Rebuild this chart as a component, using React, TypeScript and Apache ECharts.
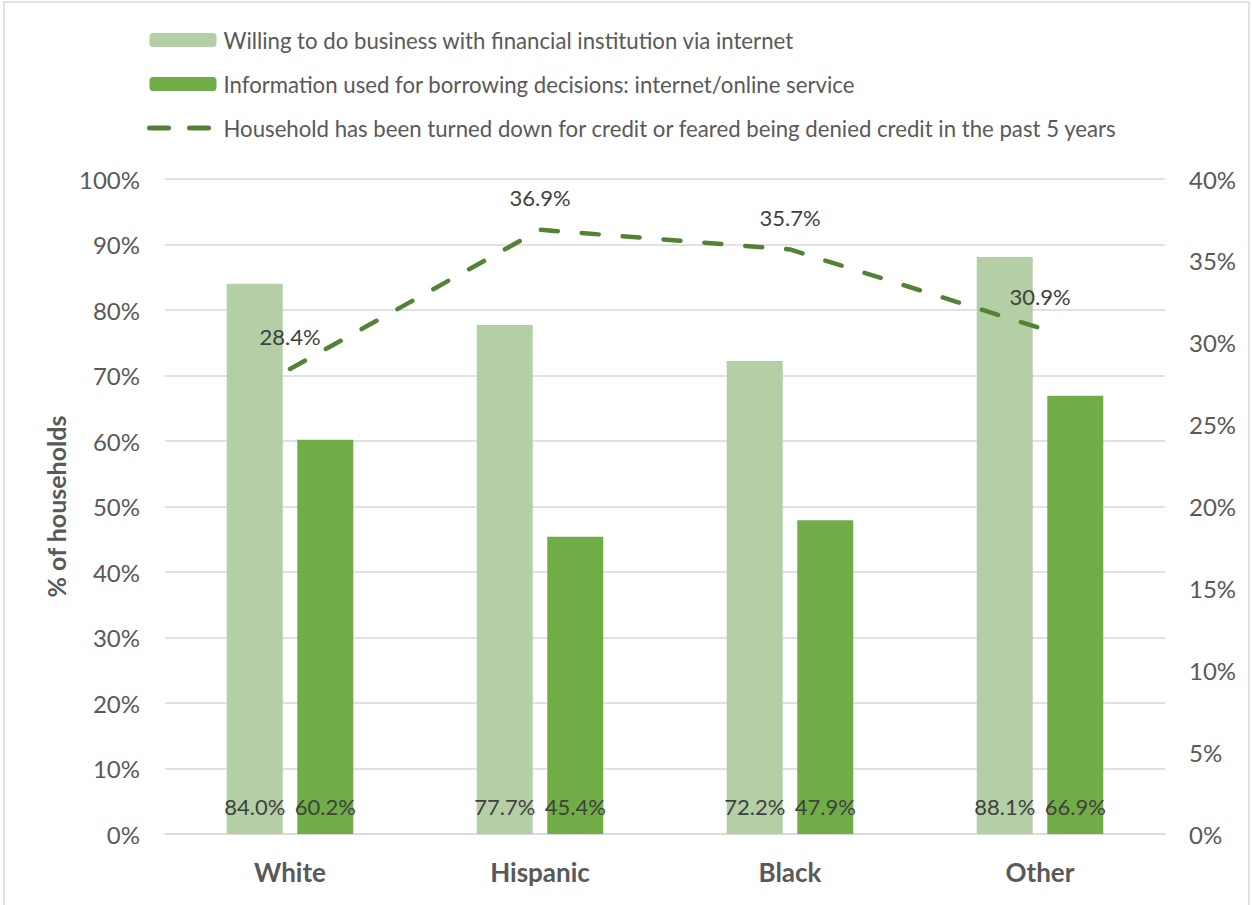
import React, { useEffect, useRef } from "react";
import * as echarts from "echarts";

const categories = ["White", "Hispanic", "Black", "Other"];
const willingValues = [84.0, 77.7, 72.2, 88.1];
const infoValues = [60.2, 45.4, 47.9, 66.9];
const deniedValues = [28.4, 36.9, 35.7, 30.9];
const seriesNames = [
  "Willing to do business with financial institution via internet",
  "Information used for borrowing decisions: internet/online service",
  "Household has been turned down for credit or feared being denied credit in the past 5 years",
];

const FONT = "Lato, 'Open Sans', sans-serif";
const TXT = "#595959";
const LBL = "#404040";

export default function App() {
  const ref = useRef<HTMLDivElement>(null);
  useEffect(() => {
    const chart = echarts.init(ref.current!, null, { renderer: "svg" });
    const pct = (p: any) => Number(p.value).toFixed(1) + "%";
    chart.setOption({
      animation: false,
      textStyle: { fontFamily: FONT },
      graphic: [
        {
          type: "rect",
          shape: { x: 4, y: 2, width: 1245, height: 910 },
          style: { fill: "none", stroke: "#d9d9d9", lineWidth: 1.5 },
          silent: true,
        },
      ],
      legend: {
        orient: "vertical",
        left: 147,
        top: 29,
        padding: 0,
        itemWidth: 67,
        itemHeight: 14,
        itemGap: 22,
        textStyle: { color: TXT, fontSize: 22.2, fontFamily: FONT, padding: [0, 0, 0, 2] },
        data: [
          seriesNames[0],
          seriesNames[1],
          {
            name: seriesNames[2],
            itemStyle: { opacity: 0 },
            lineStyle: { width: 5, type: [19, 21], cap: "round", color: "#548235" },
          },
        ],
      },
      grid: { left: 165, right: 87, top: 179, bottom: 71 },
      xAxis: {
        type: "category",
        data: categories,
        axisLine: { lineStyle: { color: "#d9d9d9", width: 1.5 } },
        axisTick: { show: false },
        axisLabel: { color: TXT, fontSize: 26, fontWeight: "bold", margin: 25, fontFamily: FONT },
      },
      yAxis: [
        {
          type: "value",
          min: 0,
          max: 100,
          interval: 10,
          name: "% of households",
          nameLocation: "middle",
          nameGap: 97,
          nameTextStyle: { color: TXT, fontSize: 25, fontWeight: "bold", fontFamily: FONT },
          axisLabel: { formatter: "{value}%", color: TXT, fontSize: 24, margin: 25, fontFamily: FONT },
          splitLine: { lineStyle: { color: "#d9d9d9", width: 1.5 } },
          axisLine: { show: false },
          axisTick: { show: false },
        },
        {
          type: "value",
          min: 0,
          max: 40,
          interval: 5,
          axisLabel: { formatter: "{value}%", color: TXT, fontSize: 24, margin: 24, fontFamily: FONT },
          splitLine: { show: false },
          axisLine: { show: false },
          axisTick: { show: false },
        },
      ],
      series: [
        {
          name: seriesNames[0],
          type: "bar",
          data: willingValues,
          barWidth: 56,
          barGap: "26%",
          itemStyle: { color: "#b4cfa6" },
          label: {
            show: true,
            position: "insideBottom",
            distance: 17,
            formatter: pct,
            color: LBL,
            fontSize: 22,
            fontFamily: FONT,
          },
        },
        {
          name: seriesNames[1],
          type: "bar",
          data: infoValues,
          barWidth: 56,
          itemStyle: { color: "#70ad47" },
          label: {
            show: true,
            position: "insideBottom",
            distance: 17,
            formatter: pct,
            color: LBL,
            fontSize: 22,
            fontFamily: FONT,
          },
        },
        {
          name: seriesNames[2],
          type: "line",
          yAxisIndex: 1,
          data: deniedValues,
          symbol: "circle",
          symbolSize: 0.01,
          showSymbol: true,
          itemStyle: { color: "#548235" },
          lineStyle: { color: "#548235", width: 4.5, type: [17, 24], cap: "round" },
          z: 5,
          label: {
            show: true,
            position: "top",
            distance: 21,
            formatter: pct,
            color: LBL,
            fontSize: 22,
            fontFamily: FONT,
          },
        },
      ],
    });
    return () => chart.dispose();
  }, []);
  return (
    <div
      ref={ref}
      style={{ position: "fixed", left: 0, top: 0, width: 1252, height: 905, background: "#fff" }}
    />
  );
}
